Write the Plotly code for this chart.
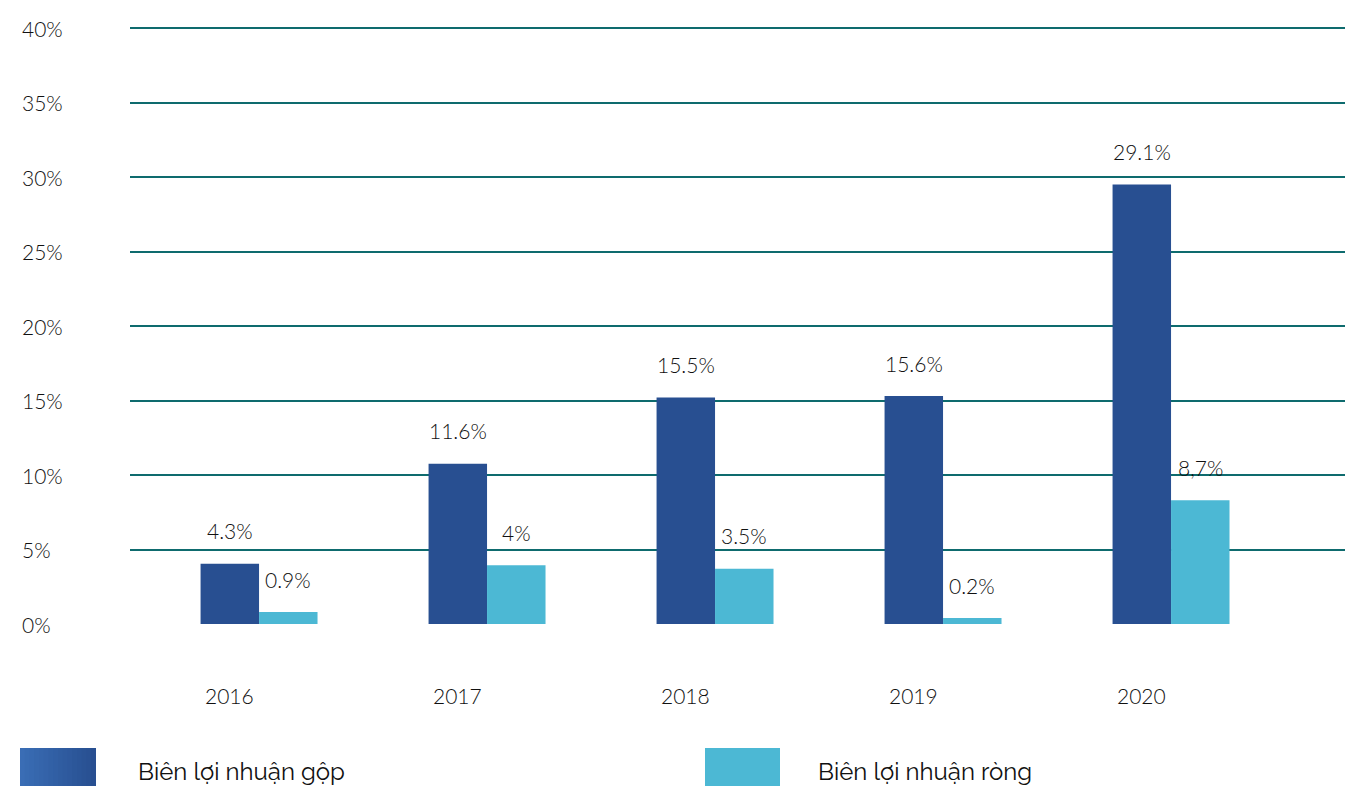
import plotly.graph_objects as go

years = ["2016", "2017", "2018", "2019", "2020"]
gross_margin = [4.05, 10.75, 15.2, 15.3, 29.5]
net_margin = [0.8, 3.95, 3.7, 0.4, 8.3]
gross_labels = ["4.3%", "11.6%", "15.5%", "15.6%", "29.1%"]
net_labels = ["0.9%", "4%", "3.5%", "0.2%", "8,7%"]
y_ticks = [0, 5, 10, 15, 20, 25, 30, 35, 40]
series_names = ["Biên lợi nhuận gộp", "Biên lợi nhuận ròng"]

DARK = "#284f91"
LIGHT = "#4cb8d4"
GRID = "#0e6b6e"
TEXT = "#111111"
TEXT_FONT = "Raleway, Lato, 'Noto Sans', sans-serif"
NUM_FONT = "Lato, 'Noto Sans', sans-serif"

W, H = 1350, 789
L, R, T, B = 130, 5, 27, 165
PW, PH = W - L - R, H - T - B
Y_MAX = 40.07


def px_x(p):
    return (p - L) / PW


def px_y(p):
    return (H - B - p) / PH


fig = go.Figure()
fig.add_trace(go.Bar(x=years, y=gross_margin, name=series_names[0],
                     marker=dict(color=DARK, line=dict(width=0))))
fig.add_trace(go.Bar(x=years, y=net_margin, name=series_names[1],
                     marker=dict(color=LIGHT, line=dict(width=0))))

annotations = []
off = 0.1285
num_font = dict(size=21, color=TEXT, family=NUM_FONT, weight=300)
for i in range(len(years)):
    annotations.append(dict(x=i - off, y=gross_margin[i], xref="x", yref="y",
                            text=gross_labels[i], showarrow=False, yshift=33,
                            font=num_font))
    annotations.append(dict(x=i + off, y=net_margin[i], xref="x", yref="y",
                            text=net_labels[i], showarrow=False, yshift=33,
                            font=num_font))
    # year label under the first bar of each group
    annotations.append(dict(x=i - off, y=px_y(695), xref="x", yref="paper",
                            text=years[i], showarrow=False, yanchor="middle",
                            font=num_font))
for t in y_ticks:
    annotations.append(dict(x=px_x(20), y=t, xref="paper", yref="y",
                            text=f"{t}%", showarrow=False, xanchor="left",
                            yanchor="middle", font=num_font))

shapes = []
# legend swatches
n = 16
x0, x1 = 20, 96
c0 = (0x3a, 0x6d, 0xb5)
c1 = (0x28, 0x4f, 0x91)
for k in range(n):
    a = x0 + (x1 - x0) * k / n
    b = x1
    f = k / (n - 1)
    col = "rgb(%d,%d,%d)" % tuple(int(c0[j] + (c1[j] - c0[j]) * f) for j in range(3))
    shapes.append(dict(type="rect", xref="paper", yref="paper",
                       x0=px_x(a), x1=px_x(b), y0=px_y(786), y1=px_y(748),
                       fillcolor=col, line=dict(width=0), layer="above"))
shapes.append(dict(type="rect", xref="paper", yref="paper",
                   x0=px_x(705), x1=px_x(780), y0=px_y(786), y1=px_y(748),
                   fillcolor=LIGHT, line=dict(width=0), layer="above"))
leg_font = dict(size=24, color=TEXT, family=TEXT_FONT)
annotations.append(dict(x=px_x(136), y=px_y(771), xref="paper", yref="paper",
                        text=series_names[0], showarrow=False, xanchor="left",
                        yanchor="middle", font=leg_font))
annotations.append(dict(x=px_x(816), y=px_y(771), xref="paper", yref="paper",
                        text=series_names[1], showarrow=False, xanchor="left",
                        yanchor="middle", font=leg_font))

fig.update_layout(
    width=W, height=H,
    margin=dict(l=L, r=R, t=T, b=B, pad=0),
    paper_bgcolor="white", plot_bgcolor="white",
    barmode="group", bargap=0.487, bargroupgap=0,
    showlegend=False,
    annotations=annotations,
    shapes=shapes,
    font=dict(family=TEXT_FONT, color=TEXT),
)
fig.update_xaxes(type="category", range=[-0.566, 4.763], showgrid=False,
                 zeroline=False, showline=False, ticks="", showticklabels=False)
fig.update_yaxes(range=[0, Y_MAX], tickvals=y_ticks, showticklabels=False,
                 showgrid=True, gridcolor=GRID, gridwidth=2, zeroline=False,
                 showline=False, ticks="")

fig.write_html("out.html")
